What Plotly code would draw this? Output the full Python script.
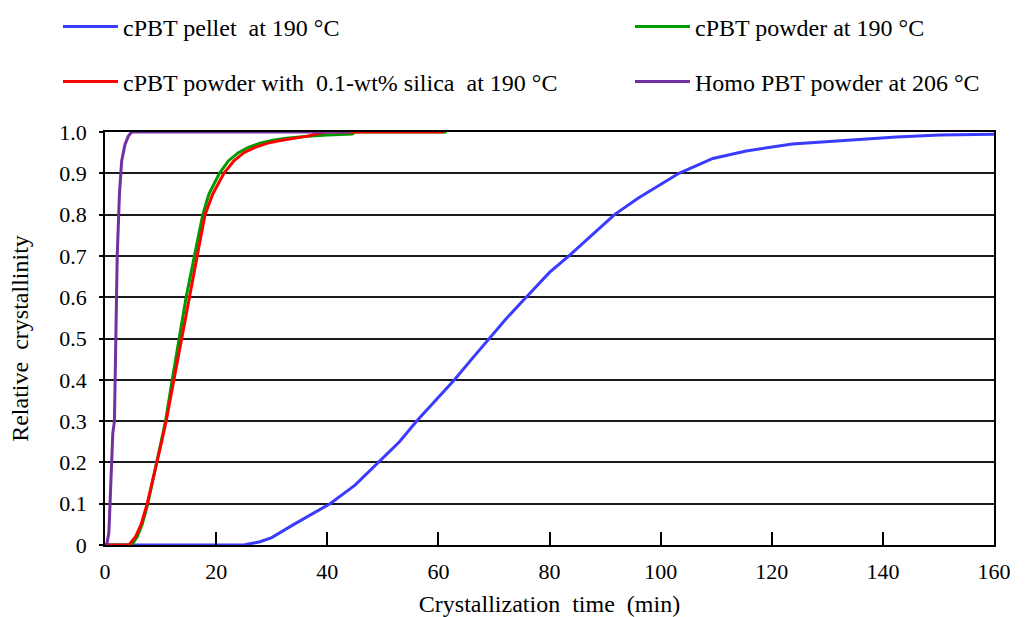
import plotly.graph_objects as go

# ---- data ----
pellet_t = [0, 25, 27.9, 30, 34, 37, 40.5, 45, 49.2, 53, 56.1, 60, 62.9, 66, 69.2, 72, 75.8,
            80, 83.5, 88, 91.7, 96, 100, 103.3, 109.4, 115.4, 123.7, 135.8, 142.4, 150.2, 161.5]
pellet_x = [0, 0, 0.008, 0.018, 0.05, 0.073, 0.1, 0.145, 0.2, 0.25, 0.3, 0.357, 0.4, 0.45, 0.5, 0.545, 0.6,
            0.66, 0.7, 0.755, 0.8, 0.84, 0.874, 0.9, 0.936, 0.954, 0.971, 0.982, 0.988, 0.993, 0.995]

powder_t = [0, 4.8, 5.8, 6.7, 7.7, 8.5, 9.3, 10.1, 10.9, 12.1, 13.3, 14.6, 16.1, 17.6, 18.7, 20.6,
            22.2, 24.0, 25.8, 27.9, 30.2, 32.7, 36.5, 40, 44.5, 45, 61.5]
powder_x = [0, 0, 0.02, 0.05, 0.1, 0.15, 0.2, 0.25, 0.3, 0.4, 0.5, 0.6, 0.7, 0.8, 0.85, 0.9,
            0.93, 0.95, 0.963, 0.973, 0.98, 0.985, 0.99, 0.993, 0.995, 1.0, 1.0]

silica_t = [0, 4.3, 5.5, 6.5, 7.6, 8.5, 9.3, 10.2, 11.0, 12.4, 13.8, 15.2, 16.6, 18.0, 19.4, 21.4,
            23.2, 25.0, 27.0, 29.3, 31.8, 34.2, 36.5, 38.5, 40, 61]
silica_x = [0, 0, 0.02, 0.05, 0.1, 0.15, 0.2, 0.25, 0.3, 0.4, 0.5, 0.6, 0.7, 0.8, 0.85, 0.9,
            0.93, 0.95, 0.963, 0.973, 0.98, 0.985, 0.99, 0.997, 1.0, 1.0]

homo_t = [0, 0.3, 0.7, 0.9, 1.1, 1.4, 1.7, 1.9, 2.0, 2.2, 2.6, 2.9, 3.0, 3.3, 3.6, 4.2, 4.8, 44]
homo_x = [0, 0, 0.03, 0.1, 0.18, 0.27, 0.3, 0.45, 0.6, 0.7, 0.85, 0.9, 0.93, 0.95, 0.97, 0.99, 1.0, 1.0]

names = ["cPBT pellet  at 190 °C", "cPBT powder at 190 °C",
         "cPBT powder with  0.1-wt% silica  at 190 °C", "Homo PBT powder at 206 °C"]
colors = ["#3b3bff", "#009900", "#ff0000", "#7030a0"]

y_ticks = [0, 0.1, 0.2, 0.3, 0.4, 0.5, 0.6, 0.7, 0.8, 0.9, 1.0]
y_labels = ["0", "0.1", "0.2", "0.3", "0.4", "0.5", "0.6", "0.7", "0.8", "0.9", "1.0"]
x_ticks = [0, 20, 40, 60, 80, 100, 120, 140, 160]

FONT = "Liberation Serif, Tinos, Times New Roman, Times, DejaVu Serif, Noto Serif, FreeSerif, serif"

fig = go.Figure()
series = [(pellet_t, pellet_x), (powder_t, powder_x), (silica_t, silica_x), (homo_t, homo_x)]
legend_ids = ["legend", "legend2", "legend3", "legend4"]
for (t, v), nm, c, lg in zip(series, names, colors, legend_ids):
    fig.add_trace(go.Scatter(x=t, y=v, mode="lines", name=nm, legend=lg, showlegend=True,
                             line=dict(color=c, width=3)))

def leg(xpx, ypx):
    return dict(x=xpx / 1025, y=1 - ypx / 617, orientation="h", xref="container",
                yref="container", xanchor="left", yanchor="middle",
                bgcolor="rgba(0,0,0,0)", itemwidth=55, visible=True,
                font=dict(family=FONT, size=24, color="black"))

fig.update_layout(
    width=1025, height=617,
    showlegend=True,
    margin=dict(l=105, r=31, t=132, b=72),
    paper_bgcolor="white", plot_bgcolor="white",
    font=dict(family=FONT, size=22, color="black"),
    legend=leg(58, 27), legend2=leg(630, 27), legend3=leg(58, 82), legend4=leg(630, 82),
    xaxis=dict(range=[0, 160], tickvals=x_ticks, ticks="inside", ticklen=13, tickwidth=1.5,
               tickcolor="black", showline=True, linecolor="black", linewidth=1.5, mirror=True,
               showgrid=False, zeroline=False, tickfont=dict(family=FONT, size=22),
               ticklabelstandoff=6, automargin=False,
               title=dict(text="Crystallization  time  (min)", font=dict(family=FONT, size=24),
                          standoff=19)),
    yaxis=dict(range=[0, 1.0], tickvals=y_ticks, ticktext=y_labels, ticks="outside", ticklen=4,
               tickwidth=1.5, tickcolor="black", showline=True, linecolor="black", linewidth=1.5,
               mirror=True, showgrid=True, gridcolor="#1a1a1a", gridwidth=1.5, zeroline=False,
               tickfont=dict(family=FONT, size=22), ticklabelstandoff=8, automargin=False,
               title=dict(text="Relative  crystallinity", font=dict(family=FONT, size=24),
                          standoff=24)),
)

fig.write_html("out.html")
